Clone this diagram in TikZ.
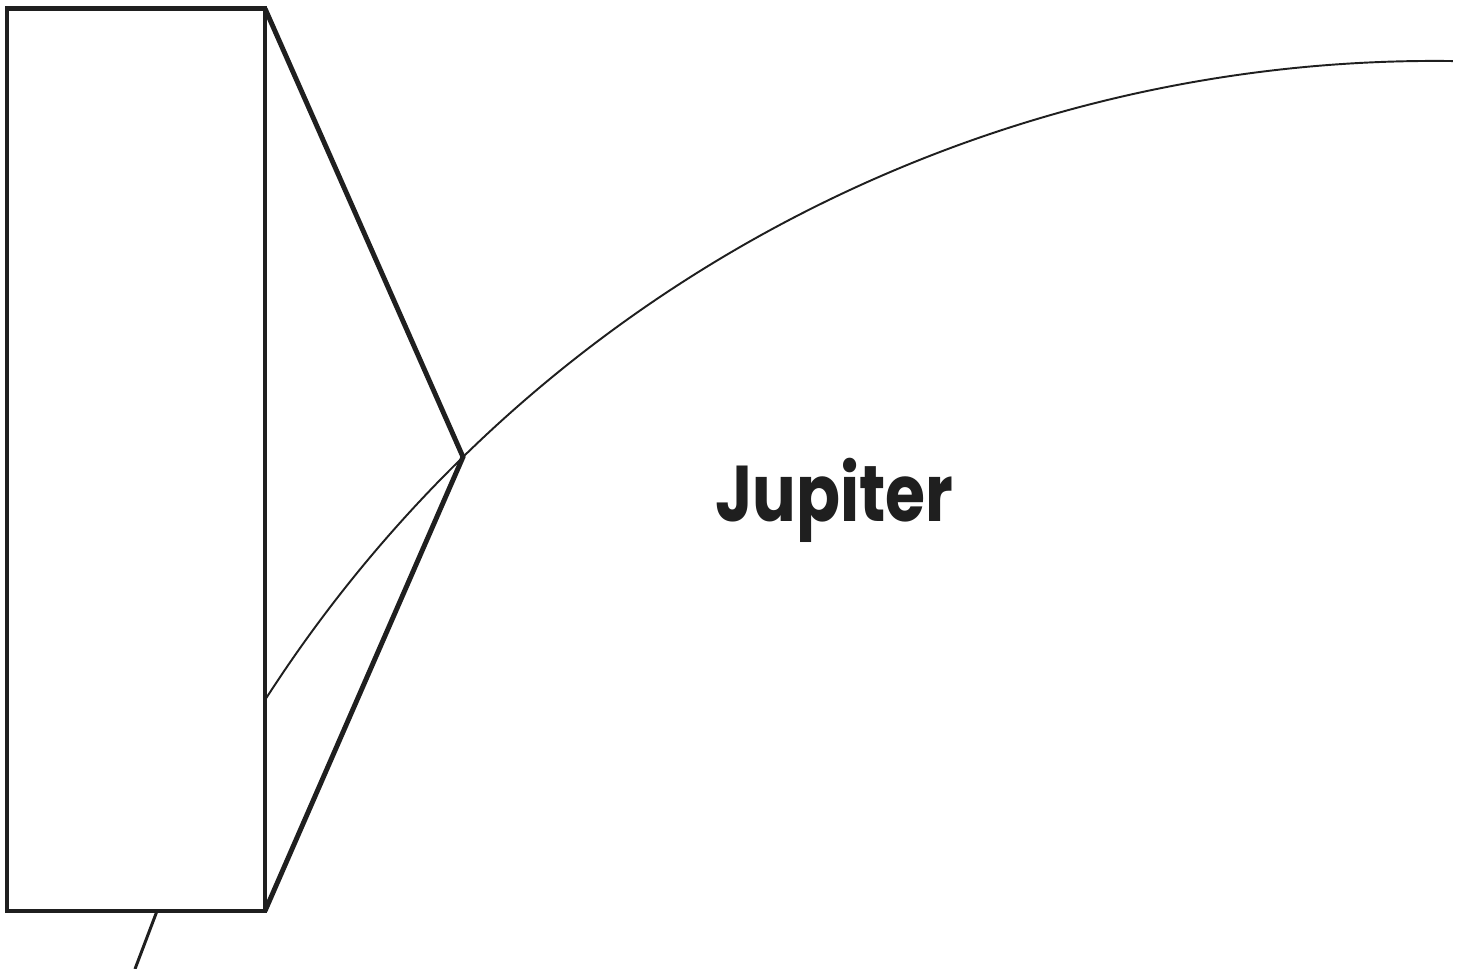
\documentclass[tikz,border=0pt]{standalone}
\usepackage{fontspec}
\newfontfamily\labelfont[FakeStretch=0.82]{Poppins}
\usepackage{tikz}
\usetikzlibrary{positioning}

\begin{document}
\begin{tikzpicture}[
  x=0.02cm, y=-0.02cm,
  frame/.style={draw=black!88, line width=2.8pt, line join=miter},
  limb/.style={draw=black!88, line width=1.1pt},
  pointer/.style={draw=black!88, line width=1.7pt},
  planet/.style={font=\labelfont\bfseries\fontsize{45}{45}\selectfont, text=black!88, inner sep=0pt},
]
\useasboundingbox (0,0) rectangle (1463,969);

% Coordinates
\coordinate (tl) at (7,8.5);
\coordinate (tr) at (265,8.5);
\coordinate (br) at (265,911);
\coordinate (bl) at (7,911);
\coordinate (apex) at (463,457);
\coordinate (limbin) at (265,700);
\coordinate (foot) at (157,911);
\coordinate (tail) at (135,969);

% Planet edge
\draw[limb] (limbin) arc[start angle=-147.3, end angle=-89.25, radius=1390];

% Zoom box
\draw[frame] (tl) -- (tr) -- (br) -- (bl) -- cycle;
\draw[frame] (tr) -- (apex) -- (br);
\draw[pointer] (foot) -- (tail);

% Label
\node[planet, anchor=base] (jupiter) at (834.5,521) {Jupiter};

\end{tikzpicture}
\end{document}
